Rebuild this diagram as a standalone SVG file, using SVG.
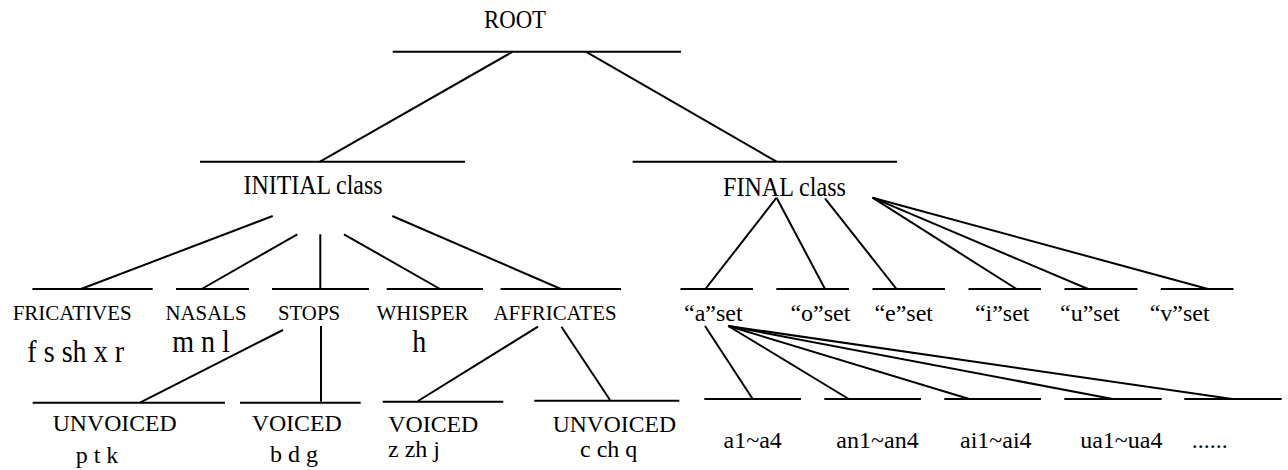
<svg xmlns="http://www.w3.org/2000/svg" width="1288" height="470" viewBox="0 0 1288 470" font-family="'Liberation Serif', serif">
<style>
  .bar { stroke: #000; stroke-width: 2; fill: none; }
  .edge { stroke: #000; stroke-width: 2; fill: none; }
  .t { font-family: 'Liberation Serif', 'Times New Roman', serif; fill: #000; text-anchor: middle; }
  .l0 { font-size: 25px; }
  .l1 { font-size: 26.5px; }
  .l2 { font-size: 21.5px; }
  .big { font-size: 32px; }
  .l3 { font-size: 24px; }
</style>
<rect width="1288" height="470" fill="#fff"/>

<g id="connectors">
  <line class="edge" x1="512.7" y1="51.7" x2="320" y2="161.7"/>
  <line class="edge" x1="585.8" y1="51.7" x2="776.6" y2="161.7"/>
  <line class="edge" x1="272.7" y1="216" x2="81" y2="289"/>
  <line class="edge" x1="297.3" y1="234.3" x2="201.7" y2="289"/>
  <line class="edge" x1="320.3" y1="234.3" x2="320.3" y2="289"/>
  <line class="edge" x1="344" y1="234.3" x2="440" y2="289"/>
  <line class="edge" x1="392.3" y1="216" x2="561" y2="289"/>
  <line class="edge" x1="283" y1="330" x2="140" y2="402.7"/>
  <line class="edge" x1="321" y1="326" x2="321" y2="401.7"/>
  <line class="edge" x1="538" y1="326.7" x2="418" y2="401"/>
  <line class="edge" x1="561.4" y1="326.7" x2="610" y2="400"/>
  <line class="edge" x1="776.6" y1="197.7" x2="705.4" y2="289"/>
  <line class="edge" x1="776.6" y1="197.7" x2="825" y2="289"/>
  <line class="edge" x1="825" y1="198.3" x2="896.5" y2="289"/>
  <line class="edge" x1="872.5" y1="197.7" x2="1016.5" y2="289"/>
  <line class="edge" x1="872.5" y1="197.7" x2="1088" y2="289"/>
  <line class="edge" x1="872.5" y1="197.7" x2="1208" y2="289"/>
  <line class="edge" x1="705" y1="326" x2="752.7" y2="399"/>
  <line class="edge" x1="728.3" y1="326" x2="848.7" y2="399"/>
  <line class="edge" x1="728.3" y1="326" x2="969.3" y2="399"/>
  <line class="edge" x1="728.3" y1="326" x2="1112.7" y2="399"/>
  <line class="edge" x1="728.3" y1="326" x2="1232.3" y2="399"/>
</g>

<g id="root">
  <text class="t l0" x="515" y="28.3" textLength="62" lengthAdjust="spacingAndGlyphs">ROOT</text>
  <line class="bar" x1="392.7" y1="51.7" x2="681" y2="51.7"/>
</g>

<g id="initial">
  <line class="bar" x1="200" y1="161.7" x2="465" y2="161.7"/>
  <text class="t l1" x="313" y="193.5" textLength="139" lengthAdjust="spacingAndGlyphs">INITIAL class</text>
</g>
<g id="final">
  <line class="bar" x1="632.6" y1="161.7" x2="897" y2="161.7"/>
  <text class="t l1" x="784.5" y="196" textLength="123" lengthAdjust="spacingAndGlyphs">FINAL class</text>
</g>

<g id="fricatives">
  <line class="bar" x1="32.4" y1="289" x2="152.7" y2="289"/>
  <text class="t l2" x="72.2" y="320" textLength="119" lengthAdjust="spacingAndGlyphs">FRICATIVES</text>
  <text class="t big" x="75.7" y="361.7" textLength="96.7" lengthAdjust="spacingAndGlyphs">f s sh x r</text>
</g>
<g id="nasals">
  <line class="bar" x1="176" y1="289" x2="249" y2="289"/>
  <text class="t l2" x="206" y="320" textLength="81" lengthAdjust="spacingAndGlyphs">NASALS</text>
  <text class="t big" x="201" y="352.3" textLength="57.7" lengthAdjust="spacingAndGlyphs">m n l</text>
</g>
<g id="stops">
  <line class="bar" x1="272" y1="289" x2="369" y2="289"/>
  <text class="t l2" x="309" y="320" textLength="62" lengthAdjust="spacingAndGlyphs">STOPS</text>
</g>
<g id="whisper">
  <line class="bar" x1="386.7" y1="289" x2="483" y2="289"/>
  <text class="t l2" x="422.5" y="320" textLength="92" lengthAdjust="spacingAndGlyphs">WHISPER</text>
  <text class="t big" x="419.3" y="352.3" textLength="14" lengthAdjust="spacingAndGlyphs">h</text>
</g>
<g id="affricates">
  <line class="bar" x1="500.5" y1="289" x2="621" y2="289"/>
  <text class="t l2" x="555" y="320" textLength="123" lengthAdjust="spacingAndGlyphs">AFFRICATES</text>
</g>

<g id="stops-unvoiced">
  <line class="bar" x1="32.7" y1="402.7" x2="225" y2="402.7"/>
  <text class="t l3" x="114.7" y="430.7" textLength="124" lengthAdjust="spacingAndGlyphs">UNVOICED</text>
  <text class="t l3" x="97" y="462.5">p t k</text>
</g>
<g id="stops-voiced">
  <line class="bar" x1="240" y1="402.7" x2="360.7" y2="402.7"/>
  <text class="t l3" x="296.7" y="430.7" textLength="90" lengthAdjust="spacingAndGlyphs">VOICED</text>
  <text class="t l3" x="294" y="462">b d g</text>
</g>
<g id="affricates-voiced">
  <line class="bar" x1="382.7" y1="401.7" x2="503.3" y2="401.7"/>
  <text class="t l3" x="433.3" y="431.7" textLength="90" lengthAdjust="spacingAndGlyphs">VOICED</text>
  <text class="t l3" x="414" y="456.7">z zh j</text>
</g>
<g id="affricates-unvoiced">
  <line class="bar" x1="534.3" y1="400.7" x2="679.3" y2="400.7"/>
  <text class="t l3" x="614.3" y="431.7" textLength="123.3" lengthAdjust="spacingAndGlyphs">UNVOICED</text>
  <text class="t l3" x="608.7" y="456.7">c ch q</text>
</g>

<g id="a-set">
  <line class="bar" x1="680.5" y1="289" x2="753" y2="289"/>
  <text class="t l3" x="713.3" y="320.7">“a”set</text>
</g>
<g id="o-set">
  <line class="bar" x1="776.3" y1="289" x2="849" y2="289"/>
  <text class="t l3" x="820.4" y="320.7">“o”set</text>
</g>
<g id="e-set">
  <line class="bar" x1="872.5" y1="289" x2="945" y2="289"/>
  <text class="t l3" x="903.7" y="320.7">“e”set</text>
</g>
<g id="i-set">
  <line class="bar" x1="968.5" y1="289" x2="1041" y2="289"/>
  <text class="t l3" x="1002.2" y="320.7">“i”set</text>
</g>
<g id="u-set">
  <line class="bar" x1="1064.5" y1="289" x2="1137.5" y2="289"/>
  <text class="t l3" x="1090" y="320.7">“u”set</text>
</g>
<g id="v-set">
  <line class="bar" x1="1160.8" y1="289" x2="1233.5" y2="289"/>
  <text class="t l3" x="1179.7" y="320.7">“v”set</text>
</g>

<g id="a1-a4">
  <line class="bar" x1="704.3" y1="399" x2="801" y2="399"/>
  <text class="t l3" x="752.7" y="448.3">a1~a4</text>
</g>
<g id="an1-an4">
  <line class="bar" x1="824.3" y1="399" x2="921" y2="399"/>
  <text class="t l3" x="877.5" y="448.3">an1~an4</text>
</g>
<g id="ai1-ai4">
  <line class="bar" x1="944.3" y1="399" x2="1041" y2="399"/>
  <text class="t l3" x="995.8" y="448.3">ai1~ai4</text>
</g>
<g id="ua1-ua4">
  <line class="bar" x1="1064.3" y1="399" x2="1161.7" y2="399"/>
  <text class="t l3" x="1121.3" y="448.3">ua1~ua4</text>
</g>
<g id="more">
  <line class="bar" x1="1184.3" y1="399" x2="1281.7" y2="399"/>
  <text class="t l3" x="1209.7" y="448.3">......</text>
</g>
</svg>
